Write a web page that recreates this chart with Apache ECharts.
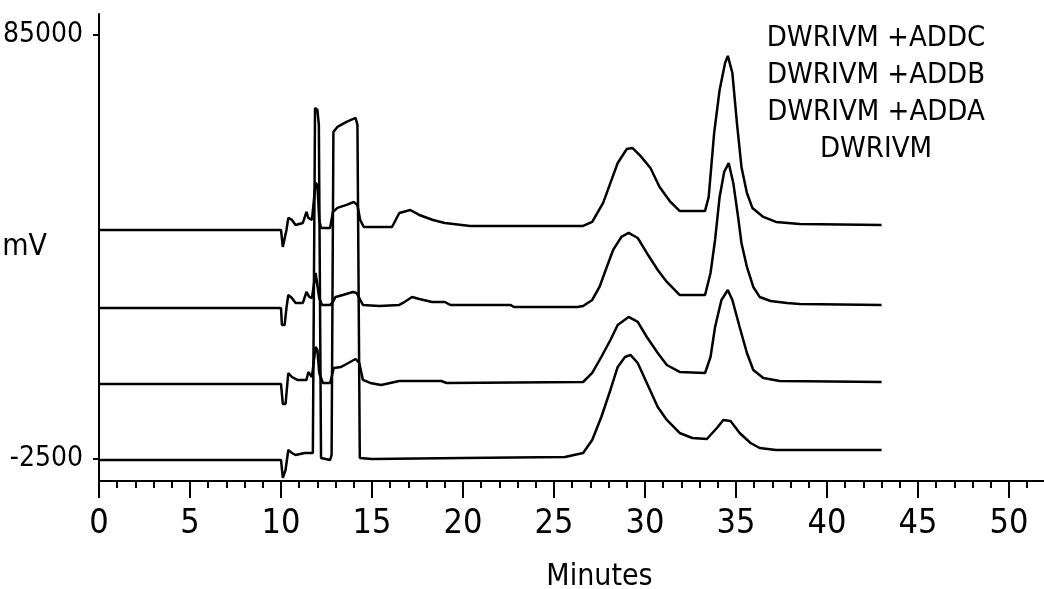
<!DOCTYPE html>
<html>
<head>
<meta charset="utf-8">
<script src="https://cdn.jsdelivr.net/npm/echarts@6/dist/echarts.min.js"></script>
<style>
html, body { margin: 0; padding: 0; background: #fff; }
#chart { width: 1044px; height: 589px; }
</style>
</head>
<body>
<div id="chart"></div>
<script>
// [minutes, mV], traces already stacked
var addcTrace = [[0,44770],[10.0,44770],[10.1,41260],[10.2,41260],[10.3,44770],[10.4,47240],[10.6,46830],[10.8,45800],[11.2,46210],[11.4,48480],[11.5,47240],[11.7,46830],[11.9,54470],[12.0,54050],[12.1,46830],[12.2,45180],[12.7,45180],[12.85,48480],[13.1,49310],[13.6,49930],[14.0,50540],[14.2,49930],[14.35,46830],[14.55,45380],[16.1,45380],[16.5,48270],[17.1,48880],[17.6,47860],[18.35,46830],[19.0,46210],[20.4,45590],[26.6,45590],[27.1,46420],[27.7,50340],[28.1,54470],[28.5,58590],[29.0,61480],[29.3,61690],[29.7,60250],[30.3,57560],[30.8,53640],[31.4,50540],[31.9,48690],[33.3,48690],[33.5,51580],[33.8,64790],[34.1,73660],[34.4,79230],[34.55,80680],[34.8,77170],[35.05,66850],[35.3,57770],[35.6,52400],[35.9,49310],[36.5,47450],[37.2,46420],[38.5,46000],[43.0,45800]];
var addbTrace = [[0,28670],[10.0,28670],[10.05,25160],[10.2,25160],[10.3,28670],[10.4,31350],[10.6,30730],[10.8,29700],[11.2,29700],[11.4,31970],[11.55,30940],[11.7,30730],[11.9,35890],[12.0,35480],[12.1,30730],[12.25,29290],[12.7,29290],[12.85,29900],[13.0,30940],[13.4,31350],[13.95,31970],[14.15,31760],[14.3,30730],[14.5,29290],[15.4,29080],[16.5,29290],[16.7,29700],[17.2,30940],[17.6,30520],[18.3,29900],[19.0,29900],[19.3,29290],[22.6,29290],[22.8,28870],[26.3,28870],[26.6,29080],[27.1,30320],[27.5,33000],[27.9,37130],[28.25,40640],[28.7,43320],[29.1,44150],[29.6,43110],[30.1,40020],[30.7,36510],[31.2,34030],[31.9,31350],[33.3,31350],[33.6,35890],[33.85,42700],[34.1,51580],[34.35,56740],[34.6,58590],[34.85,54470],[35.1,47860],[35.3,42080],[35.6,37130],[35.95,33000],[36.3,30940],[36.9,30110],[37.8,29700],[38.5,29490],[43.0,29290]];
var addaTrace = [[0,12980],[10.0,12980],[10.1,8850],[10.25,8850],[10.4,15250],[10.6,14420],[10.9,13810],[11.4,13810],[11.5,15460],[11.7,14420],[11.9,20620],[12.0,20000],[12.1,15250],[12.3,13190],[12.7,13190],[12.9,16280],[13.3,16490],[13.7,17310],[14.1,18140],[14.3,17310],[14.5,13810],[14.9,13190],[15.5,12770],[16.5,13600],[18.8,13600],[19.1,13190],[26.6,13390],[27.1,15250],[27.6,18550],[28.1,22060],[28.5,25160],[29.1,26810],[29.6,25780],[30.1,22680],[30.7,19380],[31.2,16900],[31.9,15460],[33.3,15250],[33.6,18550],[33.85,24740],[34.2,30320],[34.55,32380],[34.8,30320],[35.2,24740],[35.6,19380],[35.95,15870],[36.5,14220],[37.4,13600],[43.0,13390]];
var dwrivmTrace = [[0,-2700],[10.0,-2700],[10.1,-6400],[10.25,-4770],[10.4,-640],[10.6,-1260],[10.8,-1670],[11.3,-1260],[11.75,-1260],[11.87,69950],[12.0,69530],[12.08,66440],[12.2,-2290],[12.7,-2700],[12.78,-1670],[12.88,65000],[13.1,66030],[13.6,67060],[14.1,67880],[14.2,66440],[14.33,-2290],[15,-2500],[20,-2300],[25.6,-2090],[26.6,-1260],[27.1,1420],[27.6,6170],[28.1,11740],[28.5,16490],[28.9,18550],[29.2,18970],[29.6,17310],[30.1,13190],[30.7,8230],[31.2,5550],[31.9,2870],[32.6,1830],[33.4,1630],[34.0,4100],[34.3,5550],[34.7,5340],[35.2,2870],[35.8,800],[36.3,-230],[37.2,-640],[43.0,-640]];

var traceNames = ['DWRIVM +ADDC', 'DWRIVM +ADDB', 'DWRIVM +ADDA', 'DWRIVM'];
var traces = [addcTrace, addbTrace, addaTrace, dwrivmTrace];
var yTickValues = [-2500, 85000];

var FONT = "'DejaVu Sans Condensed', 'Liberation Sans Narrow', sans-serif";

var chart = echarts.init(document.getElementById('chart'));

var series = traces.map(function (d, i) {
    return {
        name: traceNames[i],
        type: 'line',
        data: d,
        showSymbol: false,
        lineStyle: { color: '#000', width: 2.5 },
        z: 3
    };
});

chart.setOption({
    animation: false,
    backgroundColor: '#fff',
    // x axis runs on past the right edge so it ends cut off like the original
    grid: { left: 99, right: -56, top: 14, bottom: 108, outerBoundsMode: 'none', containLabel: false },
    xAxis: {
        type: 'value',
        min: 0,
        max: 55,
        interval: 5,
        name: 'Minutes',
        nameLocation: 'middle',
        nameGap: 81,
        nameMoveOverlap: false,
        nameTextStyle: { fontFamily: FONT, fontSize: 30, color: '#000' },
        axisLine: { onZero: false, lineStyle: { color: '#000', width: 2 } },
        axisTick: { length: 17, lineStyle: { color: '#000', width: 2 } },
        minorTick: { show: true, splitNumber: 5, length: 7, lineStyle: { color: '#000', width: 2 } },
        axisLabel: { fontFamily: FONT, fontSize: 34, color: '#000', margin: 26, formatter: function (v) { return String(v); } },
        splitLine: { show: false },
        minorSplitLine: { show: false }
    },
    yAxis: {
        type: 'value',
        min: -7040,
        max: 89330,
        name: 'mV',
        nameLocation: 'middle',
        nameRotate: 0,
        nameGap: 52,
        nameMoveOverlap: false,
        nameTextStyle: { fontFamily: FONT, fontSize: 30, color: '#000', padding: [0, 0, 8, 0] },
        axisLine: { onZero: false, lineStyle: { color: '#000', width: 2 } },
        axisTick: { customValues: yTickValues, length: 6, lineStyle: { color: '#000', width: 2 } },
        axisLabel: { customValues: yTickValues, fontFamily: FONT, fontSize: 28, color: '#000', margin: 16, padding: [9, 0, 0, 0], formatter: function (v) { return String(v); } },
        splitLine: { show: false }
    },
    graphic: [{
        type: 'text',
        x: 876,
        y: 20,
        style: {
            text: traceNames.join('\n'),
            textAlign: 'center',
            fontFamily: FONT,
            fontSize: 29,
            lineHeight: 37,
            fill: '#000'
        }
    }],
    series: series
});
</script>
</body>
</html>
